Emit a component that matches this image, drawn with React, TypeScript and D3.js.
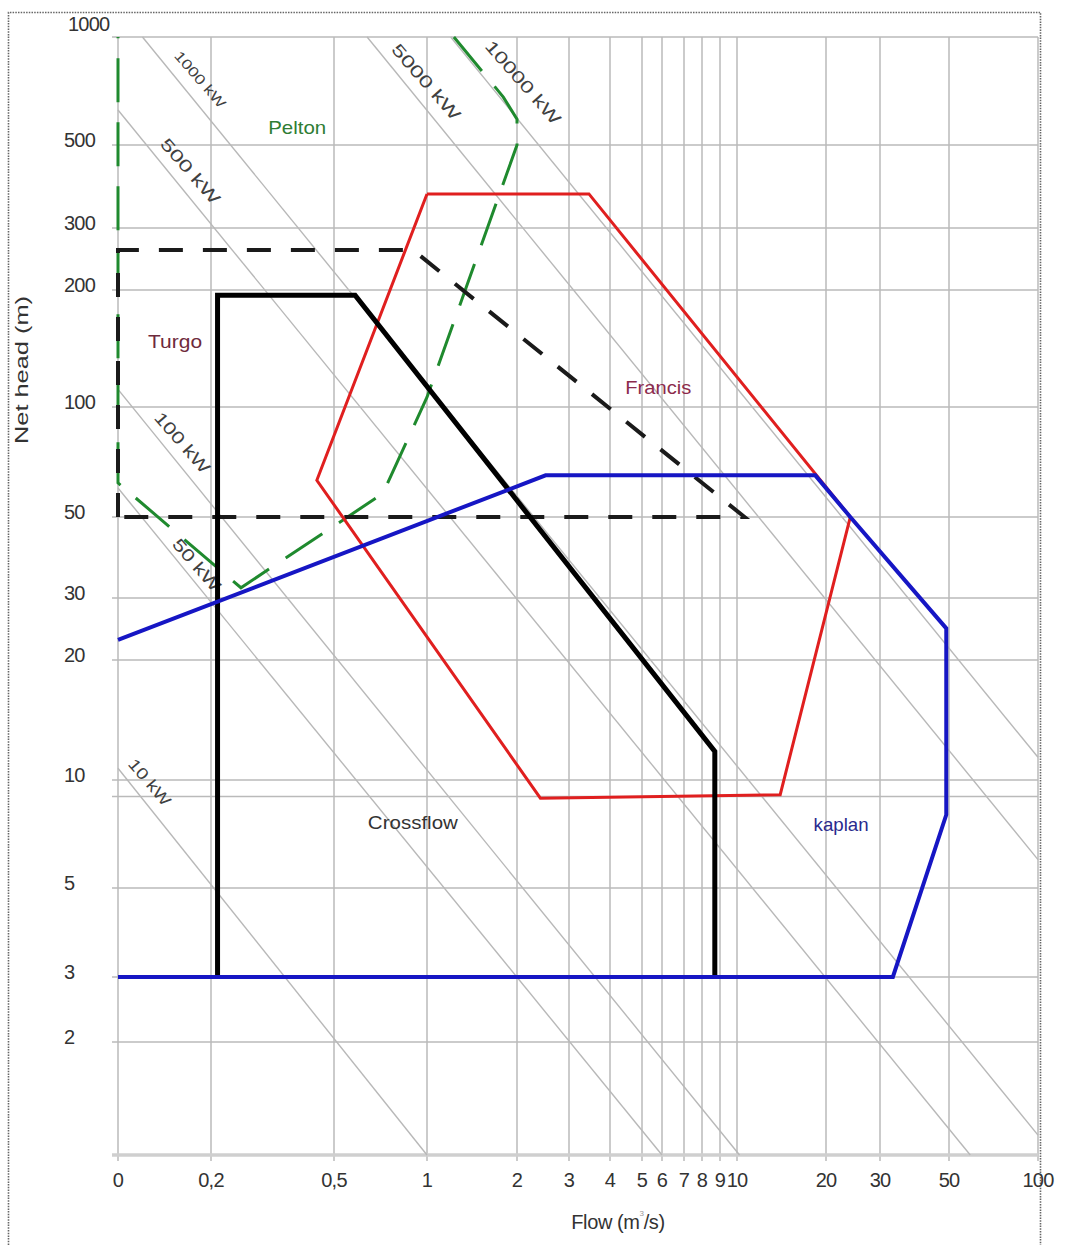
import * as d3 from 'd3';

type Pt = [number, number]; // [flow m3/s, net head m]

// axis ticks as printed on the chart
const flowTicks = [0.1, 0.2, 0.5, 1, 2, 3, 4, 5, 6, 7, 8, 9, 10, 20, 30, 50, 100];
const flowTickLabels = ['0', '0,2', '0,5', '1', '2', '3', '4', '5', '6', '7', '8', '9', '10', '20', '30', '50', '100'];
const headTicks = [2, 3, 5, 10, 20, 30, 50, 100, 200, 300, 500, 1000];
const headTickLabels = ['2', '3', '5', '10', '20', '30', '50', '100', '200', '300', '500', '1000'];
const headGrid = [1, 2, 3, 5, 9, 10, 20, 30, 50, 100, 200, 300, 500, 1000];

// turbine envelopes
const pelton: Pt[] = [
  [1.23, 1000], [1.8, 680], [2, 590], [2, 500], [1, 106], [0.72, 58], [0.25, 32], [0.1, 62], [0.1, 1000],
];
const turgo: Pt[] = [[0.1, 50], [0.1, 260], [0.9, 260], [10.6, 50], [0.1, 50]];
const francis: Pt[] = [[1, 370], [3.45, 370], [24, 50], [14, 9.1], [2.4, 8.9], [0.44, 63], [1, 370]];
// crossflow shares its 3 m floor with the kaplan envelope
const crossflow: Pt[] = [[0.21, 3], [0.21, 194], [0.585, 194], [8.7, 11.8], [8.7, 3]];
const kaplan: Pt[] = [[0.1, 22.8], [2.5, 65], [18.4, 65], [24, 50], [49, 24.6], [49, 8], [33, 3], [0.1, 3]];

// iso-power lines, read as end points off the chart
const powerLabels = ['10 kW', '50 kW', '100 kW', '500 kW', '1000 kW', '5000 kW', '10000 kW'];
const powerStart: Pt[] = [[0.1, 10.7], [0.1, 60], [0.1, 111], [0.1, 626], [0.12, 1000], [0.64, 1000], [1.2, 1000]];
const powerEnd: Pt[] = [[1, 1], [6, 1], [10.2, 1], [59, 1], [100, 1.13], [100, 6], [100, 11.4]];

const font = '"Liberation Sans", Arial, sans-serif';

export default function App() {
  const width = 1071;
  const height = 1245;

  // the scanned grid is not a perfectly even log grid, so map piecewise
  const x = d3
    .scaleLog()
    .domain(flowTicks)
    .range([118, 211, 334, 427, 517, 569, 610, 642, 662, 684, 702, 720, 737, 826, 880, 949, 1038]);
  const y = d3
    .scaleLog()
    .domain([1, 2, 3, 5, 10, 20, 30, 50, 100, 200, 300, 500, 1000])
    .range([1155, 1042, 977, 888, 780, 660, 598, 517, 407, 290, 228, 145, 37]);

  const line = d3
    .line<Pt>()
    .x((d) => x(d[0]))
    .y((d) => y(d[1]));

  const left = x(0.1);
  const right = x(100);
  const top = y(1000);
  const bottom = y(1);

  // label placement along each power line: fraction, normal offset, font size, text length
  const powerPlace = [
    [0.062, 16, 16, 56],
    [0.127, 12, 17, 64],
    [0.083, 16, 17, 75],
    [0.069, 17, 17, 81],
    [0.049, 18, 14, 70],
    [0.068, 17, 17, 95],
    [0.087, 27, 17, 105],
  ];

  const turbineText = (label: string, q: number, h: number, fill: string, len: number) => (
    <text
      x={x(q)}
      y={y(h)}
      fill={fill}
      fontSize={19}
      textAnchor="middle"
      dominantBaseline="central"
      textLength={len}
      lengthAdjust="spacingAndGlyphs"
    >
      {label}
    </text>
  );

  return (
    <div style={{ position: 'absolute', left: 0, top: 0 }}>
      <svg width={width} height={height} fontFamily={font} style={{ display: 'block', background: '#fff' }}>
        {/* dotted frame */}
        <path
          d={`M8.5,${height} V12.5 H1040.5 V${height}`}
          fill="none"
          stroke="#666"
          strokeWidth={1.6}
          strokeDasharray="1.5,1.2"
        />

        {/* grid */}
        <g stroke="#bababa" strokeWidth={1.5}>
          {flowTicks.map((v) => (
            <line key={`vx${v}`} x1={x(v)} x2={x(v)} y1={top} y2={bottom + 6} />
          ))}
          {headGrid.map((v) => (
            <line key={`hy${v}`} x1={left - 6} x2={right} y1={y(v)} y2={y(v)} />
          ))}
        </g>
        <line x1={left - 6} x2={right} y1={bottom} y2={bottom} stroke="#cfcfcf" strokeWidth={3.5} />

        {/* power lines */}
        <g>
          {powerLabels.map((lab, i) => {
            const x0 = x(powerStart[i][0]);
            const y0 = y(powerStart[i][1]);
            const x1 = x(powerEnd[i][0]);
            const y1 = y(powerEnd[i][1]);
            const len = Math.hypot(x1 - x0, y1 - y0);
            const ux = (x1 - x0) / len;
            const uy = (y1 - y0) / len;
            const [t, d, fs, tl] = powerPlace[i];
            const cx = x0 + ux * t * len + uy * d;
            const cy = y0 + uy * t * len - ux * d;
            const ang = (Math.atan2(y1 - y0, x1 - x0) * 180) / Math.PI;
            return (
              <g key={lab}>
                <line x1={x0} y1={y0} x2={x1} y2={y1} stroke="#b8b8b8" strokeWidth={1.4} />
                <text
                  x={cx}
                  y={cy}
                  transform={`rotate(${ang - 2},${cx},${cy})`}
                  fontSize={fs}
                  fill="#404040"
                  textAnchor="middle"
                  dominantBaseline="central"
                  textLength={tl}
                  lengthAdjust="spacingAndGlyphs"
                >
                  {lab}
                </text>
              </g>
            );
          })}
        </g>

        {/* envelopes */}
        <path d={line(pelton) ?? ''} fill="none" stroke="#1f8a2e" strokeWidth={3} strokeDasharray="44,20" />
        <path d={line(turgo) ?? ''} fill="none" stroke="#1a1a1a" strokeWidth={4} strokeDasharray="24,20" />
        <path d={line(francis) ?? ''} fill="none" stroke="#e01f1f" strokeWidth={3} strokeLinejoin="miter" />
        <path d={line(crossflow) ?? ''} fill="none" stroke="#000" strokeWidth={5} />
        <path d={line(kaplan) ?? ''} fill="none" stroke="#1616c4" strokeWidth={4} />

        {/* turbine names */}
        {turbineText('Pelton', 0.38, 560, '#2f7d34', 58)}
        {turbineText('Turgo', 0.153, 147, '#6e2a3c', 54)}
        {turbineText('Francis', 5.8, 112, '#8c2a4c', 66)}
        {turbineText('Crossflow', 0.9, 7.6, '#333', 90)}
        {turbineText('kaplan', 22.4, 7.5, '#2a2a8e', 55)}

        {/* axis tick labels */}
        <g fontSize={20} fill="#333" letterSpacing={-0.8}>
          {flowTicks.map((v, i) => (
            <text key={`tx${v}`} x={x(v)} y={bottom + 25} textAnchor="middle" dominantBaseline="central">
              {flowTickLabels[i]}
            </text>
          ))}
          {headTicks.map((v, i) => (
            <text
              key={`ty${v}`}
              x={v === 1000 ? 68 : 64}
              y={y(v) - (v === 1000 ? 13 : 5)}
              dominantBaseline="central"
            >
              {headTickLabels[i]}
            </text>
          ))}
        </g>

        {/* axis titles */}
        <text
          x={618}
          y={1222}
          fontSize={20}
          fill="#333"
          textAnchor="middle"
          dominantBaseline="central"
          letterSpacing={-0.4}
        >
          Flow (m
          <tspan fontSize={8} dy={-9} fill="#999">
            3
          </tspan>
          <tspan dy={9}>/s)</tspan>
        </text>
        <text
          transform="translate(21,370) rotate(-90)"
          fontSize={19}
          fill="#333"
          textAnchor="middle"
          dominantBaseline="central"
          textLength={148}
          lengthAdjust="spacingAndGlyphs"
        >
          Net head (m)
        </text>
      </svg>
    </div>
  );
}
